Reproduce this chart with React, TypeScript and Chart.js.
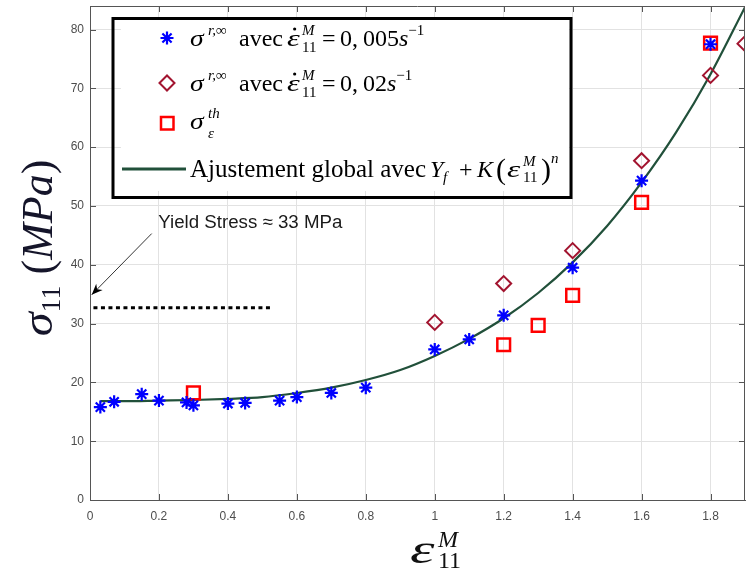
import React, { useEffect, useRef } from 'react';
import { Chart, registerables } from 'chart.js';

Chart.register(...registerables);

// ---------- data ----------
const xTicks = [0, 0.2, 0.4, 0.6, 0.8, 1, 1.2, 1.4, 1.6, 1.8];
const xTickLabels = ['0', '0.2', '0.4', '0.6', '0.8', '1', '1.2', '1.4', '1.6', '1.8'];
const yTicks = [0, 10, 20, 30, 40, 50, 60, 70, 80];
const yTickLabels = ['0', '10', '20', '30', '40', '50', '60', '70', '80'];

// sigma r,inf with strain rate 0.005 s^-1 (blue asterisks)
const strain005 = [0.03, 0.07, 0.15, 0.2, 0.28, 0.3, 0.4, 0.45, 0.55, 0.6, 0.7, 0.8, 1.0, 1.1, 1.2, 1.4, 1.6, 1.8];
const stress005 = [15.8, 16.7, 18.0, 16.9, 16.6, 16.1, 16.4, 16.5, 16.9, 17.5, 18.2, 19.1, 25.6, 27.3, 31.4, 39.5, 54.3, 77.5];

// sigma r,inf with strain rate 0.02 s^-1 (dark red diamonds)
const strain002 = [1.0, 1.2, 1.4, 1.6, 1.8, 1.9];
const stress002 = [30.2, 36.8, 42.4, 57.7, 72.2, 77.6];

// sigma th (red squares)
const strainTh = [0.3, 1.2, 1.3, 1.4, 1.6, 1.8];
const stressTh = [18.2, 26.4, 29.7, 34.8, 50.6, 77.7];

// global fit Yf + K (eps)^n
const fitStrain = [0.03, 0.1, 0.2, 0.3, 0.4, 0.5, 0.6, 0.7, 0.8, 0.9, 1.0, 1.1, 1.2, 1.3, 1.4, 1.5, 1.6, 1.7, 1.8, 1.9];
const fitStress = [16.8, 16.8, 16.9, 17.0, 17.2, 17.5, 18.2, 19.1, 20.4, 22.1, 24.5, 27.4, 30.9, 35.2, 40.4, 46.6, 54.0, 62.5, 72.4, 83.8];

// yield stress dotted line
const yieldStrain = [0.01, 0.53];
const yieldStress = [32.7, 32.7];

// ---------- styles ----------
const BLUE = '#0000ff';
const DARKRED = '#a2142f';
const RED = '#ff0000';
const GREEN = '#21503a';
const AXIS = '#555555';
const GRID = '#e2e2e2';
const TICKTXT = '#4d4d4d';
const SERIF = "'Liberation Serif', 'DejaVu Serif', serif";
const SANS = "'Liberation Sans', Arial, sans-serif";
const R = (s: number) => `${s}px ${SERIF}`;
const I = (s: number) => `italic ${s}px ${SERIF}`;

type Run = {
  t?: string;
  f?: string;
  dy?: number;
  x?: number;
  sx?: number;
  dot?: boolean;
  sup?: string;
  sub?: string;
  supF?: string;
  subF?: string;
  supDy?: number;
  subDy?: number;
};

function runs(ctx: CanvasRenderingContext2D, x0: number, y: number, list: Run[], draw = true): number {
  let cx = x0;
  for (const r of list) {
    if (r.x !== undefined) cx = r.x;
    if (r.sup !== undefined || r.sub !== undefined) {
      let w = 0;
      if (r.sup) {
        ctx.font = r.supF as string;
        if (draw) ctx.fillText(r.sup, cx, y + (r.supDy || 0));
        w = Math.max(w, ctx.measureText(r.sup).width);
      }
      if (r.sub) {
        ctx.font = r.subF as string;
        if (draw) ctx.fillText(r.sub, cx, y + (r.subDy || 0));
        w = Math.max(w, ctx.measureText(r.sub).width);
      }
      cx += w;
    } else if (r.t !== undefined) {
      ctx.font = r.f as string;
      const sx = r.sx || 1;
      const w = ctx.measureText(r.t).width * sx;
      if (draw) {
        ctx.save();
        ctx.translate(cx, y + (r.dy || 0));
        ctx.scale(sx, 1);
        ctx.fillText(r.t, 0, 0);
        ctx.restore();
        if (r.dot) {
          ctx.beginPath();
          ctx.arc(cx + w * 0.6, y - 17, 1.6, 0, Math.PI * 2);
          ctx.fill();
        }
      }
      cx += w;
    }
  }
  return cx - x0;
}

function drawStar(ctx: CanvasRenderingContext2D, x: number, y: number, r: number) {
  const d = r * Math.SQRT1_2;
  ctx.beginPath();
  ctx.moveTo(x - r, y); ctx.lineTo(x + r, y);
  ctx.moveTo(x, y - r); ctx.lineTo(x, y + r);
  ctx.moveTo(x - d, y - d); ctx.lineTo(x + d, y + d);
  ctx.moveTo(x - d, y + d); ctx.lineTo(x + d, y - d);
  ctx.stroke();
}

const overlay = {
  id: 'overlay',
  afterDraw(chart: any) {
    const { ctx, chartArea: a, scales } = chart;
    const xs = scales.x;
    const ys = scales.y;
    ctx.save();

    // frame top & right
    ctx.strokeStyle = AXIS;
    ctx.lineWidth = 1;
    ctx.beginPath();
    ctx.moveTo(a.left, a.top + 0.5);
    ctx.lineTo(a.right, a.top + 0.5);
    ctx.moveTo(a.right - 0.5, a.top);
    ctx.lineTo(a.right - 0.5, a.bottom);
    ctx.stroke();

    // inward ticks
    ctx.beginPath();
    for (const v of xTicks) {
      const px = Math.round(xs.getPixelForValue(v)) + 0.5;
      ctx.moveTo(px, a.bottom); ctx.lineTo(px, a.bottom - 6);
      ctx.moveTo(px, a.top); ctx.lineTo(px, a.top + 6);
    }
    for (const v of yTicks) {
      const py = Math.round(ys.getPixelForValue(v)) + 0.5;
      ctx.moveTo(a.left, py); ctx.lineTo(a.left + 6, py);
      ctx.moveTo(a.right, py); ctx.lineTo(a.right - 6, py);
    }
    ctx.stroke();

    // tick labels
    ctx.fillStyle = TICKTXT;
    ctx.font = `12px ${SANS}`;
    ctx.textAlign = 'center';
    ctx.textBaseline = 'middle';
    xTicks.forEach((v, i) => {
      ctx.fillText(xTickLabels[i], xs.getPixelForValue(v), a.bottom + 17);
    });
    ctx.textAlign = 'right';
    yTicks.forEach((v, i) => {
      ctx.fillText(yTickLabels[i], a.left - 6, ys.getPixelForValue(v));
    });

    // yield stress annotation
    const tipX = xs.getPixelForValue(0.005), tipY = ys.getPixelForValue(34.9);
    const tailX = xs.getPixelForValue(0.179), tailY = ys.getPixelForValue(45.3);
    ctx.strokeStyle = '#000';
    ctx.fillStyle = '#000';
    ctx.lineWidth = 0.8;
    ctx.beginPath();
    ctx.moveTo(tailX, tailY);
    ctx.lineTo(tipX, tipY);
    ctx.stroke();
    const ang = Math.atan2(tipY - tailY, tipX - tailX);
    const L = 11, W = 4.5;
    ctx.beginPath();
    ctx.moveTo(tipX, tipY);
    ctx.lineTo(tipX - L * Math.cos(ang) + W * Math.sin(ang), tipY - L * Math.sin(ang) - W * Math.cos(ang));
    ctx.lineTo(tipX - L * 0.7 * Math.cos(ang), tipY - L * 0.7 * Math.sin(ang));
    ctx.lineTo(tipX - L * Math.cos(ang) - W * Math.sin(ang), tipY - L * Math.sin(ang) + W * Math.cos(ang));
    ctx.closePath();
    ctx.fill();
    ctx.fillStyle = '#1a1a1a';
    ctx.font = `18.7px ${SANS}`;
    ctx.textBaseline = 'alphabetic';
    ctx.textAlign = 'left';
    ctx.fillText('Yield Stress \u2248 33 MPa', xs.getPixelForValue(0.198), ys.getPixelForValue(46.2));

    // legend box
    ctx.fillStyle = '#fff';
    ctx.fillRect(121, 19, 448, 172);
    ctx.strokeStyle = '#000';
    ctx.lineWidth = 3;
    ctx.strokeRect(113, 18.5, 458, 179);

    // legend markers
    ctx.strokeStyle = BLUE;
    ctx.lineWidth = 2.2;
    drawStar(ctx, 167, 38, 6.5);
    ctx.strokeStyle = DARKRED;
    ctx.lineWidth = 2;
    ctx.beginPath();
    ctx.moveTo(167 - 7.5, 83); ctx.lineTo(167, 75.5); ctx.lineTo(167 + 7.5, 83); ctx.lineTo(167, 90.5);
    ctx.closePath();
    ctx.stroke();
    ctx.strokeStyle = RED;
    ctx.lineWidth = 2.5;
    ctx.strokeRect(161, 117, 12.5, 12.5);
    ctx.strokeStyle = GREEN;
    ctx.lineWidth = 3;
    ctx.beginPath();
    ctx.moveTo(122, 169); ctx.lineTo(186, 169);
    ctx.stroke();

    // legend texts
    ctx.fillStyle = '#000';
    runs(ctx, 190, 46, [
      { t: '\u03c3', f: I(24), sx: 1.15 },
      { x: 208, t: 'r,\u221e', f: I(15), dy: -11 },
      { x: 239, t: 'avec', f: R(24) },
      { x: 287, t: '\u03b5', f: I(24), sx: 1.35, dot: true },
      { x: 302, sup: 'M', supF: I(15), supDy: -11, sub: '11', subF: R(15), subDy: 6 },
      { x: 322, t: '=', f: R(24) },
      { x: 340, t: '0,', f: R(24) },
      { x: 363, t: '005', f: R(24) },
      { t: 's', f: I(24) },
      { t: '\u22121', f: R(15), dy: -11 },
    ]);
    runs(ctx, 190, 91, [
      { t: '\u03c3', f: I(24), sx: 1.15 },
      { x: 208, t: 'r,\u221e', f: I(15), dy: -11 },
      { x: 239, t: 'avec', f: R(24) },
      { x: 287, t: '\u03b5', f: I(24), sx: 1.35, dot: true },
      { x: 302, sup: 'M', supF: I(15), supDy: -11, sub: '11', subF: R(15), subDy: 6 },
      { x: 322, t: '=', f: R(24) },
      { x: 340, t: '0,', f: R(24) },
      { x: 363, t: '02', f: R(24) },
      { t: 's', f: I(24) },
      { t: '\u22121', f: R(15), dy: -11 },
    ]);
    runs(ctx, 190, 129, [
      { t: '\u03c3', f: I(24), sx: 1.15 },
      { x: 208, sup: 'th', supF: I(15), supDy: -11, sub: '\u03b5', subF: I(15), subDy: 9 },
    ]);
    runs(ctx, 190, 177, [
      { t: 'Ajustement global avec', f: R(25) },
      { x: 430, t: 'Y', f: I(24) },
      { x: 443, t: 'f', f: I(15), dy: 5 },
      { x: 459, t: '+', f: R(24) },
      { x: 477, t: 'K', f: I(24) },
      { x: 496, t: '(', f: R(30), dy: 2 },
      { x: 507, t: '\u03b5', f: I(24), sx: 1.4 },
      { x: 523, sup: 'M', supF: I(15), supDy: -11, sub: '11', subF: R(15), subDy: 5 },
      { x: 541, t: ')', f: R(30), dy: 2 },
      { x: 551, t: 'n', f: I(15), dy: -14 },
    ]);

    // x axis title
    ctx.fillStyle = '#111';
    runs(ctx, 410, 563, [
      { t: '\u03b5', f: I(40), sx: 1.55 },
      { x: 438, sup: 'M', supF: I(24), supDy: -16, sub: '11', subF: R(24), subDy: 5 },
    ]);

    // y axis title (rotated)
    const yRuns: Run[] = [
      { t: '\u03c3', f: I(44), sx: 1.1 },
      { t: '11', f: R(28), dy: 8 },
      { t: ' (', f: R(44) },
      { t: 'MPa', f: I(44) },
      { t: ')', f: R(44) },
    ];
    ctx.save();
    ctx.translate(52, 248);
    ctx.rotate(-Math.PI / 2);
    ctx.fillStyle = '#15152a';
    const w = runs(ctx, 0, 0, yRuns, false);
    runs(ctx, -w / 2, 0, yRuns);
    ctx.restore();

    ctx.restore();
  },
};

export default function App() {
  const ref = useRef<HTMLCanvasElement | null>(null);
  useEffect(() => {
    const canvas = ref.current;
    if (!canvas) return;
    const chart = new Chart(canvas, {
      type: 'scatter',
      data: {
        datasets: [
          {
            label: 'sigma 0.005',
            data: strain005.map((x, i) => ({ x, y: stress005[i] })),
            pointStyle: 'star',
            pointRadius: 6.5,
            borderColor: BLUE,
            backgroundColor: BLUE,
            pointBorderWidth: 2.2,
            order: 0,
          } as any,
          {
            label: 'sigma th',
            data: strainTh.map((x, i) => ({ x, y: stressTh[i] })),
            pointStyle: 'rect',
            pointRadius: 9,
            borderColor: RED,
            backgroundColor: 'rgba(0,0,0,0)',
            pointBorderWidth: 2.5,
            order: 1,
          } as any,
          {
            label: 'sigma 0.02',
            data: strain002.map((x, i) => ({ x, y: stress002[i] })),
            pointStyle: 'rectRot',
            pointRadius: 7.5,
            borderColor: DARKRED,
            backgroundColor: 'rgba(0,0,0,0)',
            pointBorderWidth: 2,
            order: 2,
          } as any,
          {
            type: 'line',
            label: 'fit',
            data: fitStrain.map((x, i) => ({ x, y: fitStress[i] })),
            borderColor: GREEN,
            borderWidth: 2.2,
            pointRadius: 0,
            cubicInterpolationMode: 'monotone',
            fill: false,
            order: 3,
          } as any,
          {
            type: 'line',
            label: 'yield',
            data: yieldStrain.map((x, i) => ({ x, y: yieldStress[i] })),
            borderColor: '#000',
            borderWidth: 3,
            borderDash: [4, 3.5],
            pointRadius: 0,
            fill: false,
            order: 4,
          } as any,
        ],
      },
      options: {
        animation: false,
        responsive: false,
        layout: { autoPadding: false, padding: { top: 6, right: 1, left: 0, bottom: 0 } },
        plugins: { legend: { display: false }, tooltip: { enabled: false } },
        scales: {
          x: {
            type: 'linear',
            min: 0,
            max: 1.9,
            afterBuildTicks: (s: any) => {
              s.ticks = xTicks.map((v) => ({ value: v }));
            },
            afterFit: (s: any) => {
              s.height = 75;
            },
            ticks: { display: false, autoSkip: false },
            grid: { color: GRID, drawTicks: false },
            border: { color: AXIS, width: 1 },
          },
          y: {
            type: 'linear',
            min: 0,
            max: 84,
            afterBuildTicks: (s: any) => {
              s.ticks = yTicks.map((v) => ({ value: v }));
            },
            afterFit: (s: any) => {
              s.width = 90;
            },
            ticks: { display: false, autoSkip: false },
            grid: { color: GRID, drawTicks: false },
            border: { color: AXIS, width: 1 },
          },
        },
      },
      plugins: [overlay],
    } as any);
    return () => chart.destroy();
  }, []);
  return (
    <div style={{ position: 'fixed', left: 0, top: 0, width: 746, height: 575, background: '#fff' }}>
      <canvas ref={ref} width={746} height={575} style={{ display: 'block' }} />
    </div>
  );
}
